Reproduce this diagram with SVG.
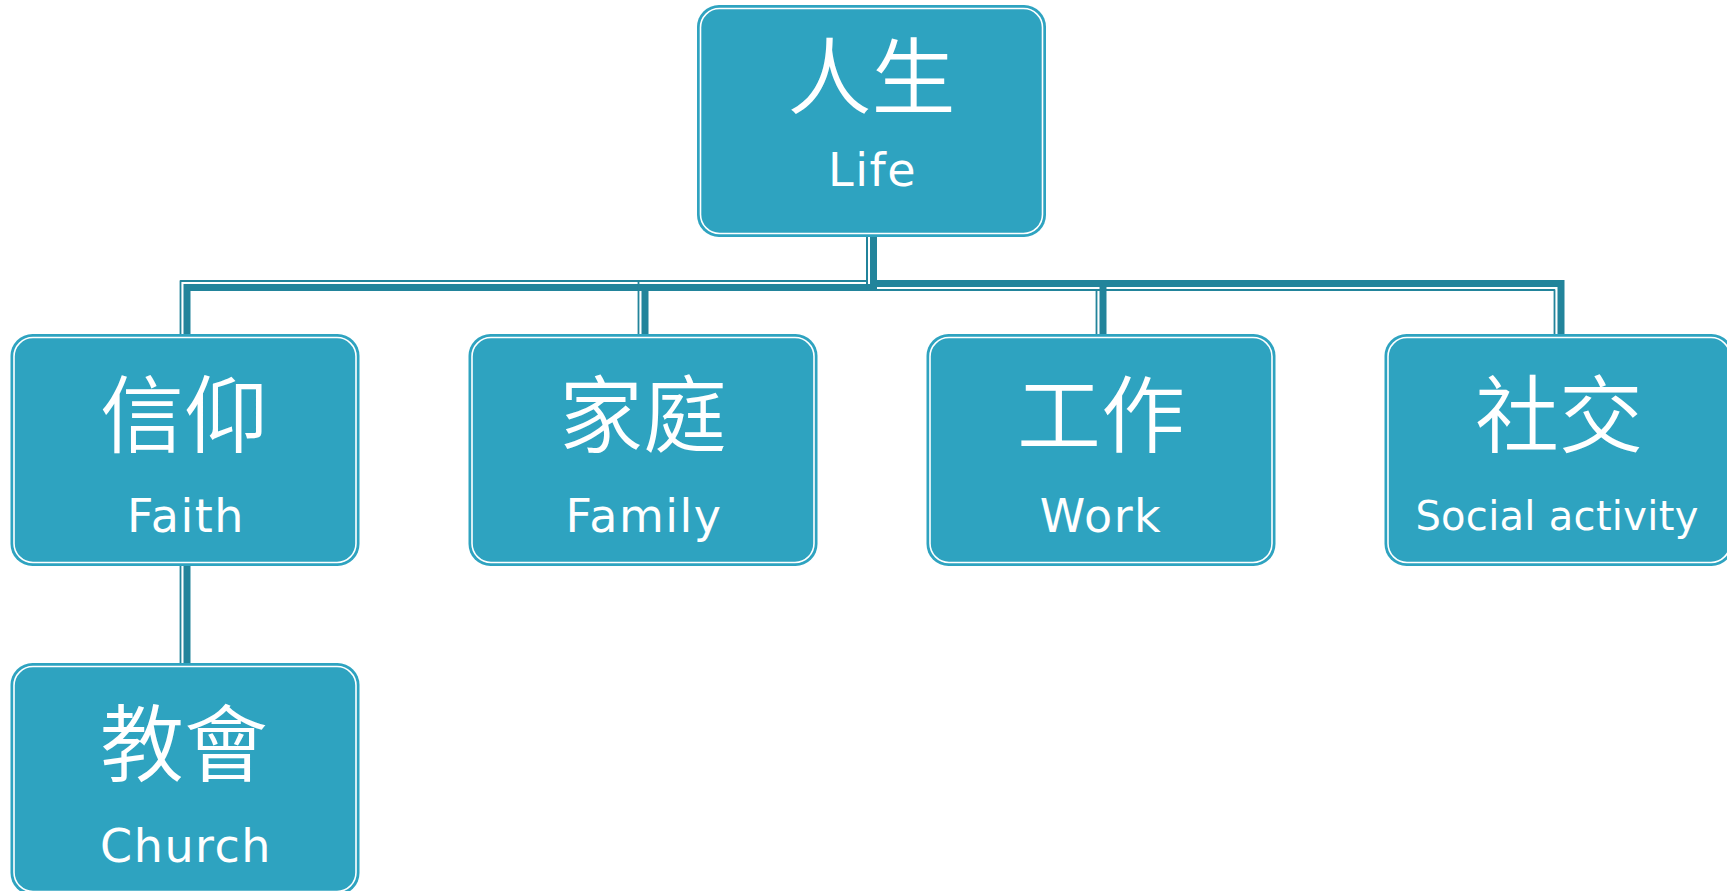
<svg xmlns="http://www.w3.org/2000/svg" width="1727" height="891" viewBox="0 0 1727 891">
<style>
.bg{fill:#2EA3C0;}
.in{fill:none;stroke:#ffffff;stroke-width:1.6;}
.cjk{font-family:"Noto Sans CJK TC","Noto Sans CJK SC",sans-serif;font-size:84px;font-weight:350;fill:#ffffff;text-anchor:middle;}
.lat{font-family:"DejaVu Sans",sans-serif;font-size:46px;fill:#ffffff;text-anchor:middle;letter-spacing:1.5px;}
.thick{fill:none;stroke:#22849B;stroke-width:7;stroke-linejoin:miter;}
.thin{fill:none;stroke:#22849B;stroke-width:1.8;stroke-linejoin:round;}
</style>
<rect width="1727" height="891" fill="#ffffff"/>
<g id="connectors">
  <polyline class="thick" points="873.5,237 873.5,287.5 187,287.5 187,334"/>
  <polyline class="thin" points="867,237 867,281 180.5,281 180.5,334"/>
  <polyline class="thick" points="873.5,237 873.5,287.5 645,287.5 645,334"/>
  <polyline class="thin" points="867,237 867,281 638.5,281 638.5,334"/>
  <polyline class="thick" points="873.5,237 873.5,283.5 1103,283.5 1103,334"/>
  <polyline class="thin" points="867,237 867,290 1096.5,290 1096.5,334"/>
  <polyline class="thick" points="873.5,237 873.5,283.5 1561,283.5 1561,334"/>
  <polyline class="thin" points="867,237 867,290 1554.5,290 1554.5,334"/>
  <polyline class="thick" points="187,566 187,663"/>
  <polyline class="thin" points="180.5,566 180.5,663"/>
</g>
<g id="node-life">
  <rect class="bg" x="697" y="5" width="349" height="232" rx="22"/>
  <rect class="in" x="700.5" y="8.5" width="342" height="225" rx="19"/>
  <text class="cjk" x="871.5" y="108">人生</text>
  <text class="lat" x="872.5" y="186">Life</text>
</g>
<g id="node-faith">
  <rect class="bg" x="10.5" y="334" width="349" height="232" rx="22"/>
  <rect class="in" x="14" y="337.5" width="342" height="225" rx="19"/>
  <text class="cjk" x="184" y="446">信仰</text>
  <text class="lat" x="186" y="532">Faith</text>
</g>
<g id="node-family">
  <rect class="bg" x="468.5" y="334" width="349" height="232" rx="22"/>
  <rect class="in" x="472" y="337.5" width="342" height="225" rx="19"/>
  <text class="cjk" x="643" y="446">家庭</text>
  <text class="lat" x="644" y="532">Family</text>
</g>
<g id="node-work">
  <rect class="bg" x="926.5" y="334" width="349" height="232" rx="22"/>
  <rect class="in" x="930" y="337.5" width="342" height="225" rx="19"/>
  <text class="cjk" x="1101" y="446">工作</text>
  <text class="lat" x="1101" y="532">Work</text>
</g>
<g id="node-social">
  <rect class="bg" x="1384.5" y="334" width="349" height="232" rx="22"/>
  <rect class="in" x="1388" y="337.5" width="342" height="225" rx="19"/>
  <text class="cjk" x="1559" y="446">社交</text>
  <text class="lat" x="1557" y="530" style="font-size:40px;letter-spacing:0.3px">Social activity</text>
</g>
<g id="node-church">
  <rect class="bg" x="10.5" y="663" width="349" height="232" rx="22"/>
  <rect class="in" x="14" y="666.5" width="342" height="225" rx="19"/>
  <text class="cjk" x="184" y="775">教會</text>
  <text class="lat" x="186" y="862">Church</text>
</g>
</svg>
